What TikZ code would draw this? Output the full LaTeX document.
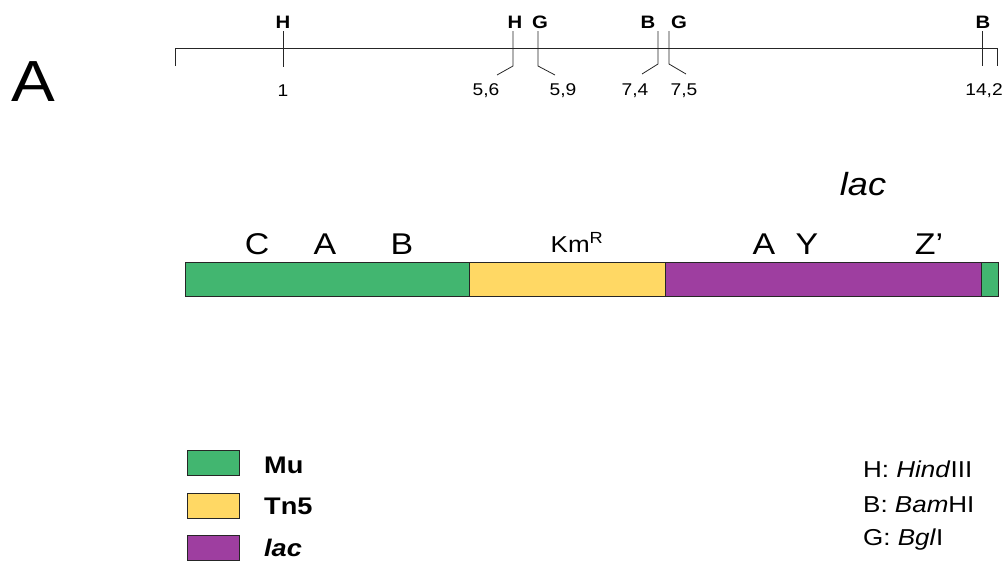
\documentclass[tikz,border=0pt]{standalone}
\usepackage{fontspec}
\setmainfont[FakeStretch=1.13]{Liberation Sans}
\definecolor{mugreen}{RGB}{66,182,112}
\definecolor{tnyellow}{RGB}{255,216,100}
\definecolor{lacpurple}{RGB}{158,62,160}
\tikzset{
  seg/.style={draw=black!85, line width=0.9pt},
  site/.style={font=\fontsize{18}{20}\selectfont\bfseries, inner sep=0pt},
  kbpos/.style={font=\fontsize{17}{20}\selectfont, inner sep=0pt},
  gene/.style={font=\fontsize{30}{34}\selectfont, inner sep=0pt},
  keybox/.style={draw=black!85, line width=0.9pt, minimum width=52pt, minimum height=25pt, inner sep=0pt},
  keytext/.style={font=\fontsize{24}{28}\selectfont\bfseries, anchor=west, inner sep=0pt},
  enz/.style={font=\fontsize{23}{26}\selectfont, anchor=west, inner sep=0pt},
  maprule/.style={black!85, line width=0.8pt}
}
\begin{document}
\begin{tikzpicture}[x=1pt,y=-1pt]
\useasboundingbox (0,0) rectangle (1008,563);
% panel letter
\node[font=\fontsize{58}{62}\selectfont, inner sep=0pt] (panel) at (33,82) {A};

% restriction map
\coordinate (mapL) at (175,48);
\coordinate (mapR) at (997,48);
\draw[maprule] (175,66) -- (mapL) -- (mapR) -- (997,66);

% site labels
\node[site] (h1) at (283,22) {H};
\node[site] (h2) at (515,22) {H};
\node[site] (g1) at (540,22) {G};
\node[site] (b1) at (648,22) {B};
\node[site] (g2) at (679,22) {G};
\node[site] (b2) at (983,22) {B};
% positions
\node[kbpos] (p1) at (283,91) {1};
\node[kbpos] (p56) at (486,91) {5,6};
\node[kbpos] (p59) at (563,91) {5,9};
\node[kbpos] (p74) at (635,91) {7,4};
\node[kbpos] (p75) at (684,91) {7,5};
\node[kbpos] (p142) at (984,91) {14,2};
% tick marks
\draw[maprule] (283,31) -- (283,67);
\draw[maprule] (513,31) -- (513,66) -- (497,75);
\draw[maprule] (538,31) -- (538,66) -- (555,75);
\draw[maprule] (658,31) -- (658,64) -- (642,74);
\draw[maprule] (669,31) -- (669,64) -- (686,74);
\draw[maprule] (982,31) -- (982,66);

% construct bar
\node[gene, font=\fontsize{32}{36}\selectfont\itshape] (lac) at (863,184) {lac};
\node[gene] (gC) at (257,244) {C};
\node[gene] (gA) at (325,244) {A};
\node[gene] (gB) at (402,244) {B};
\node[gene, font=\fontsize{23}{26}\selectfont] (km) at (577,242) {Km\textsuperscript{R}};
\node[gene] (lA) at (764,244) {A};
\node[gene] (lY) at (807,244) {Y};
\node[gene] (lZ) at (929,244) {Z’};

\fill[mugreen] (185,262) rectangle (469,296);
\fill[tnyellow] (469,262) rectangle (665,296);
\fill[lacpurple] (665,262) rectangle (981,296);
\fill[mugreen] (981,262) rectangle (998,296);
\draw[seg] (185,262) rectangle (998,296);
\draw[seg] (469,262) -- (469,296);
\draw[seg] (665,262) -- (665,296);
\draw[seg] (981,262) -- (981,296);

% legend
\node[keybox, fill=mugreen] (kmu) at (213,462.5) {};
\node[keybox, fill=tnyellow] (ktn) at (213,505.5) {};
\node[keybox, fill=lacpurple] (klac) at (213,547.5) {};
\node[keytext] (tmu) at (264,465) {Mu};
\node[keytext] (ttn) at (264,506) {Tn5};
\node[keytext, font=\fontsize{24}{28}\selectfont\bfseries\itshape] (tlac) at (264,548) {lac};

\node[enz] (eH) at (863,469) {H: \textit{Hind}III};
\node[enz] (eB) at (863,505) {B: \textit{Bam}HI};
\node[enz] (eG) at (863,540) {G: \textit{Bgl}I};
\end{tikzpicture}
\end{document}
